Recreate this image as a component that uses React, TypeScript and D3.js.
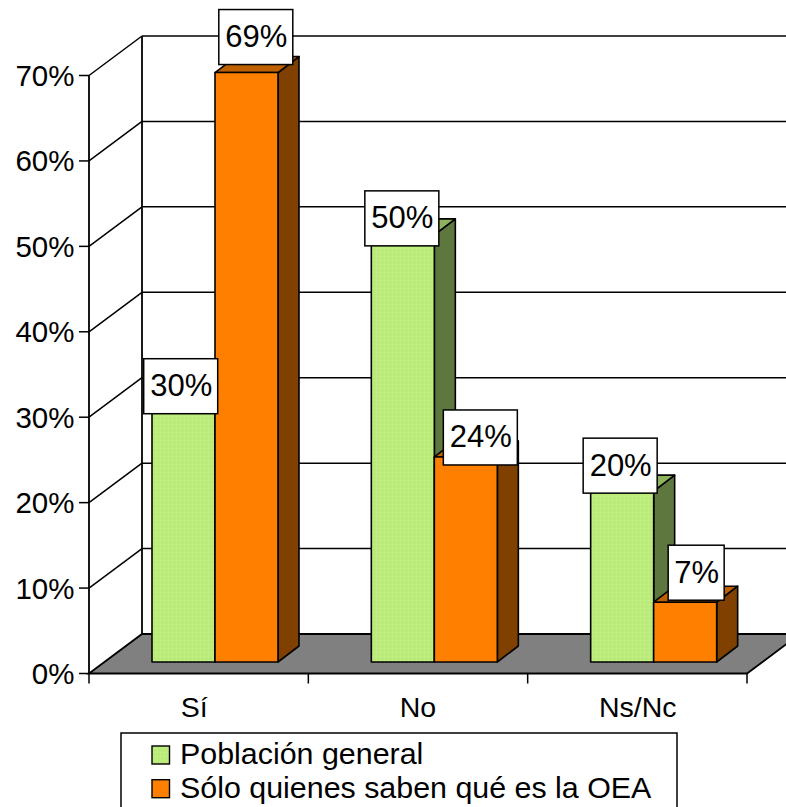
import React from "react";
import * as d3 from "d3";

const categories = ["Sí", "No", "Ns/Nc"];
const seriesNames = ["Población general", "Sólo quienes saben qué es la OEA"];
const poblacion = [30, 50, 20];
const soloOea = [69, 24, 7];
const yTicks = [0, 10, 20, 30, 40, 50, 60, 70];

const W = 786, H = 807;
const FONT = "'Liberation Sans', Arial, sans-serif";
const DX = 53, DY = -39.5;
const BDX = 21, BDY = -16;
const y = d3.scaleLinear().domain([0, 70]).range([673.5, 75.5]);
const x = d3.scaleBand<string>().domain(categories).range([89, 747]);
const barInner = d3.scaleBand<string>().domain(["a", "b"]).range([63, 63 + 126]);
const colors = [
  { front: "#bcec7c", top: "#8db35d", side: "#5d773e" },
  { front: "#ff8000", top: "#bf6000", side: "#804000" },
];
const stroke = "#000";
// placement of each data label relative to the bar top centre (layout, not data)
const labelNudge: Record<string, [number, number]> = {
  "Sí0": [-2.8, 8], "Sí1": [9.3, -8],
  "No0": [-1, 11], "No1": [14.5, 8],
  "Ns/Nc0": [-2, 2], "Ns/Nc1": [11, -2],
};
const catNudge = [-4.5, 0, 0.5];

export default function App() {
  const bandW = x.bandwidth();
  const floorOff = 11.5;
  const series = [poblacion, soloOea];
  const poly = (pts: [number, number][]) => pts.map((p) => p.join(",")).join(" ");
  const bars = categories.flatMap((c, i) =>
    series.map((s, j) => {
      const x0 = x(c)! + barInner(j === 0 ? "a" : "b")!;
      const w = barInner.bandwidth();
      const yb = y(0) - floorOff;
      const yt = y(s[i]) - floorOff;
      return { key: c + j, i, j, v: s[i], x0, w, yb, yt };
    })
  );
  return (
    <svg
      width={W}
      height={H}
      viewBox={`0 0 ${W} ${H}`}
      style={{ position: "absolute", left: 0, top: 0, background: "#fff" }}
      fontFamily={FONT}
    >
      <defs>
        <pattern id="dots" width="4" height="4" patternUnits="userSpaceOnUse">
          <rect width="4" height="4" fill="#bcec7c" />
          <rect x="0" y="0" width="1" height="1" fill="#c6f08c" />
          <rect x="2" y="2" width="1" height="1" fill="#b0e070" />
        </pattern>
      </defs>

      {/* walls */}
      <line x1={89} x2={89} y1={y(70)} y2={y(0)} stroke={stroke} strokeWidth={1.8} />
      <line x1={89 + DX} x2={89 + DX} y1={y(70) + DY} y2={y(0) + DY} stroke={stroke} strokeWidth={1.8} />
      {yTicks.map((t) => (
        <g key={t}>
          {t > 0 && (
            <>
              <line x1={89} y1={y(t)} x2={89 + DX} y2={y(t) + DY} stroke={stroke} strokeWidth={1.5} />
              <line x1={89 + DX} y1={y(t) + DY} x2={W + 5} y2={y(t) + DY} stroke={stroke} strokeWidth={1.5} />
            </>
          )}
          <line x1={79} x2={89} y1={y(t)} y2={y(t)} stroke={stroke} strokeWidth={1.5} />
          <text x={74.5} y={y(t) + 10.5} textAnchor="end" fontSize={29.5} fill="#000">
            {t}%
          </text>
        </g>
      ))}

      {/* floor */}
      <polygon
        points={poly([
          [89, y(0)],
          [89 + DX, y(0) + DY],
          [747 + DX, y(0) + DY],
          [747, y(0)],
        ])}
        fill="#808080"
        stroke={stroke}
        strokeWidth={1.8}
      />
      {[...categories.map((c) => x(c)!), 747].map((tx) => (
        <line key={tx} x1={tx} x2={tx} y1={y(0)} y2={y(0) + 10} stroke={stroke} strokeWidth={1.5} />
      ))}
      {categories.map((c, i) => (
        <text key={c} x={x(c)! + bandW / 2 + catNudge[i]} y={717} textAnchor="middle" fontSize={28.5} fill="#000">
          {c}
        </text>
      ))}

      {/* bars */}
      {bars.map((b) => {
        const col = colors[b.j];
        return (
          <g key={b.key} stroke={stroke} strokeWidth={1.6} strokeLinejoin="round">
            <polygon
              points={poly([
                [b.x0 + b.w, b.yt],
                [b.x0 + b.w + BDX, b.yt + BDY],
                [b.x0 + b.w + BDX, b.yb + BDY],
                [b.x0 + b.w, b.yb],
              ])}
              fill={col.side}
            />
            <polygon
              points={poly([
                [b.x0, b.yt],
                [b.x0 + BDX, b.yt + BDY],
                [b.x0 + b.w + BDX, b.yt + BDY],
                [b.x0 + b.w, b.yt],
              ])}
              fill={col.top}
            />
            <rect x={b.x0} y={b.yt} width={b.w} height={b.yb - b.yt} fill={b.j === 0 ? "url(#dots)" : col.front} />
          </g>
        );
      })}

      {/* data labels */}
      {bars.map((b) => {
        const text = `${b.v}%`;
        const bw = b.v < 10 ? 56 : 74;
        const bh = 55;
        const [nx, ny] = labelNudge[b.key];
        const cx = b.x0 + b.w / 2 + nx;
        const bottom = b.yt + ny;
        return (
          <g key={"l" + b.key}>
            <rect x={cx - bw / 2} y={bottom - bh} width={bw} height={bh} fill="#fff" stroke="#000" strokeWidth={1.5} />
            <text x={cx + 0.5} y={bottom - bh + 37.5} textAnchor="middle" fontSize={31} fill="#000">
              {text}
            </text>
          </g>
        );
      })}

      {/* legend */}
      <rect x={121} y={733} width={556} height={90} fill="#fff" stroke="#000" strokeWidth={1.5} />
      {seriesNames.map((n, i) => (
        <g key={n}>
          <rect x={152} y={746 + i * 33.7} width={17.5} height={18} fill={i === 0 ? "url(#dots)" : colors[1].front} stroke="#000" strokeWidth={1.4} />
          <text x={180} y={764.3 + i * 34} fontSize={30.4} fill="#000">
            {n}
          </text>
        </g>
      ))}
    </svg>
  );
}
